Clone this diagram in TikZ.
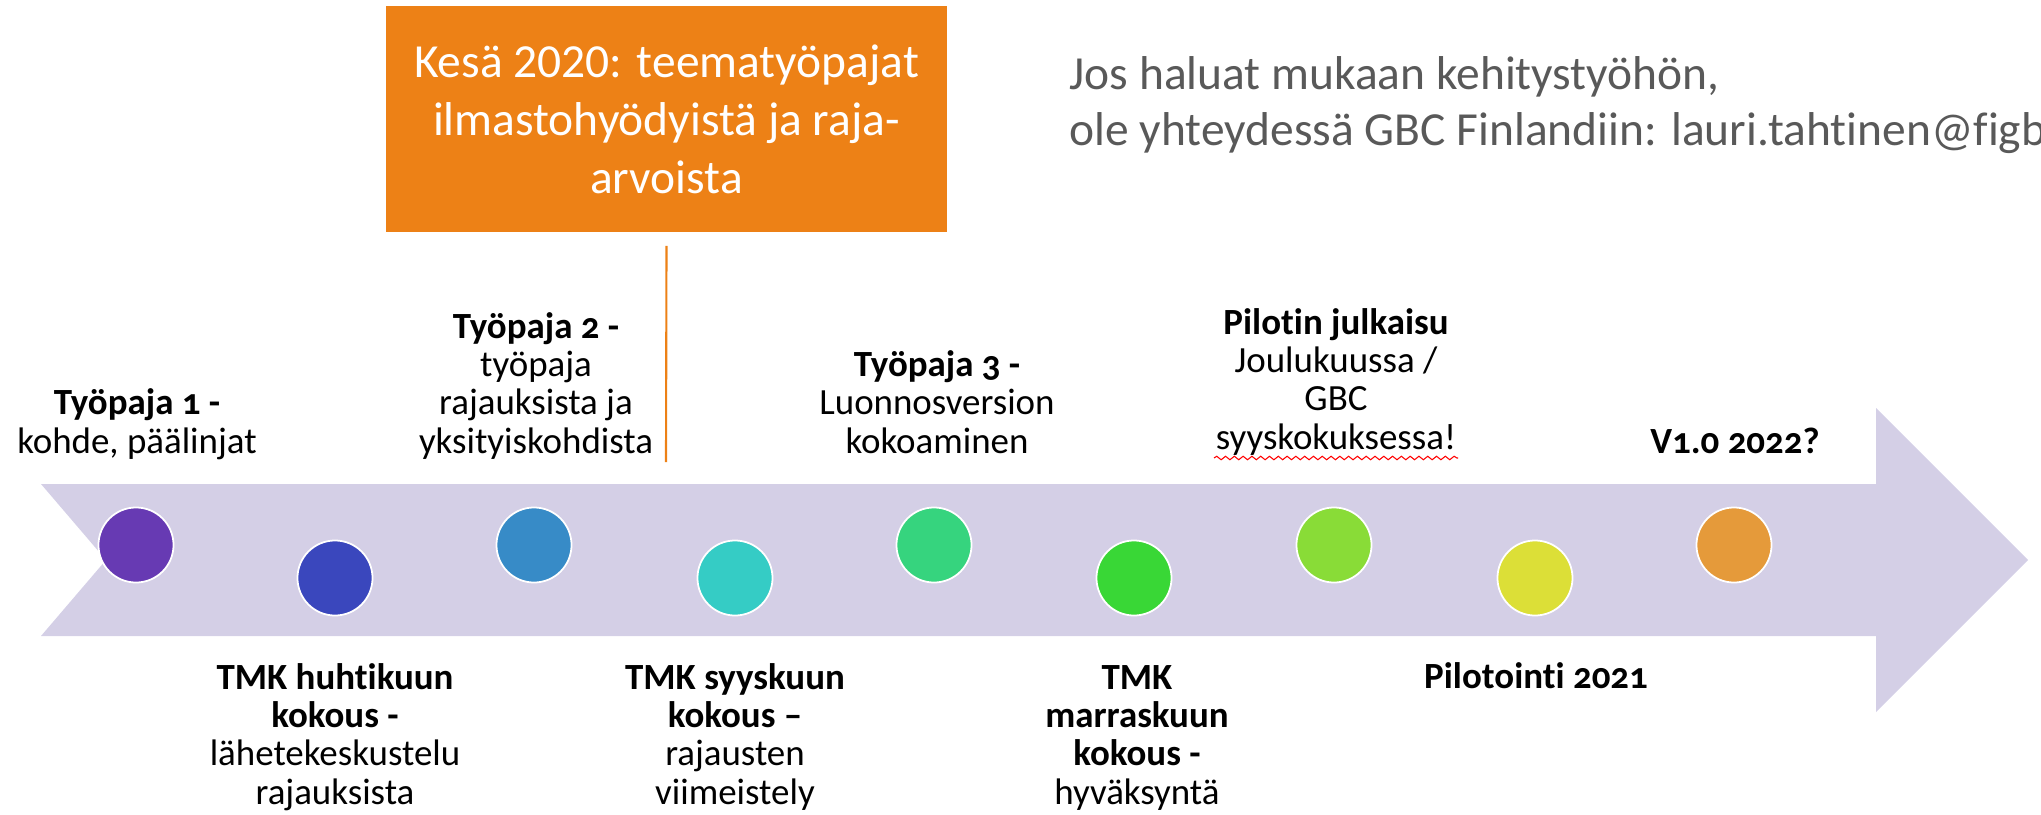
\documentclass[tikz,border=0pt]{standalone}
\usepackage{fontspec}
\setmainfont{Carlito}[Ligatures=NoCommon]
\newfontfamily\lblfont{Carlito}[Numbers=OldStyle, Ligatures=NoCommon]
\usetikzlibrary{decorations.pathmorphing}

\definecolor{kesaorange}{RGB}{237,129,22}
\definecolor{infogray}{RGB}{89,89,89}
\definecolor{arrowlilac}{RGB}{212,207,230}
\definecolor{dotA}{RGB}{103,58,179}
\definecolor{dotB}{RGB}{58,71,189}
\definecolor{dotC}{RGB}{55,139,199}
\definecolor{dotD}{RGB}{53,204,197}
\definecolor{dotE}{RGB}{54,212,126}
\definecolor{dotF}{RGB}{57,215,54}
\definecolor{dotG}{RGB}{137,220,55}
\definecolor{dotH}{RGB}{220,223,55}
\definecolor{dotI}{RGB}{229,154,58}

\begin{document}
\begin{tikzpicture}[x=0.01cm, y=-0.01cm,
  dot/.style={circle, draw=white, line width=0.5pt, minimum size=0.75cm, inner sep=0pt},
  lbl/.style={align=center, anchor=base, inner sep=0pt, font=\lblfont\fontsize{10.5}{10.9}\selectfont},
]
\useasboundingbox (0,0) rectangle (2041,815);

% Summer box
\node[fill=kesaorange, text=white, align=center, minimum width=5.61cm, minimum height=2.26cm,
  font=\fontsize{13.5}{16.5}\selectfont] (kesa) at (666.5,119)
  {Kesä 2020: teematyöpajat\\ilmastohyödyistä ja raja-\\arvoista};
\coordinate (kesaend) at (666,462);
\draw[kesaorange, line width=0.6pt] ([yshift=-0.13cm]kesa.south) -- (kesaend);

% Contact text
\begin{scope}
\clip (0,0) rectangle (2041,815);
\node[anchor=base west, align=left, inner sep=0pt, text=infogray,
  font=\fontsize{13.5}{15.65}\selectfont] (contact) at (1069,145)
  {Jos haluat mukaan kehitystyöhön,\\ole yhteydessä GBC Finlandiin: lauri.tahtinen@figbc.fi};
\end{scope}

% Timeline arrow
\fill[arrowlilac] (41,484) -- (1876,484) -- (1876,408) -- (2028,560) -- (1876,712)
  -- (1876,636) -- (41,636) -- (106,560) -- cycle;

% Milestones
\node[dot, fill=dotA] (m1) at (136,545) {};
\node[dot, fill=dotB] (m2) at (335,578) {};
\node[dot, fill=dotC] (m3) at (534,545) {};
\node[dot, fill=dotD] (m4) at (735,578) {};
\node[dot, fill=dotE] (m5) at (934,545) {};
\node[dot, fill=dotF] (m6) at (1134,578) {};
\node[dot, fill=dotG] (m7) at (1334,545) {};
\node[dot, fill=dotH] (m8) at (1535,578) {};
\node[dot, fill=dotI] (m9) at (1734,545) {};

% Labels above
\node[lbl] (t1) at (137,453) {\textbf{Työpaja 1 -}\\kohde, päälinjat};
\node[lbl] (t2) at (536,453) {\textbf{Työpaja 2 -}\\työpaja\\rajauksista ja\\yksityiskohdista};
\node[lbl] (t3) at (937,453) {\textbf{Työpaja 3 -}\\Luonnosversion\\kokoaminen};
\node[lbl] (t4) at (1336,449) {\textbf{Pilotin julkaisu}\\Joulukuussa /\\GBC\\syyskokuksessa!};
\node[lbl] (t5) at (1735,453) {\textbf{V1.0 2022?}};
\draw[red, line width=0.3pt, decorate, decoration={snake, amplitude=0.5pt, segment length=2.5pt}]
  (1214,458) -- (1458,458);

% Labels below
\node[lbl] (b1) at (335,804) {\textbf{TMK huhtikuun}\\\textbf{kokous -}\\lähetekeskustelu\\rajauksista};
\node[lbl] (b2) at (735,804) {\textbf{TMK syyskuun}\\\textbf{kokous –}\\rajausten\\viimeistely};
\node[lbl] (b3) at (1137,804) {\textbf{TMK}\\\textbf{marraskuun}\\\textbf{kokous -}\\hyväksyntä};
\node[lbl] (b4) at (1536,688) {\textbf{Pilotointi 2021}};

\end{tikzpicture}
\end{document}
